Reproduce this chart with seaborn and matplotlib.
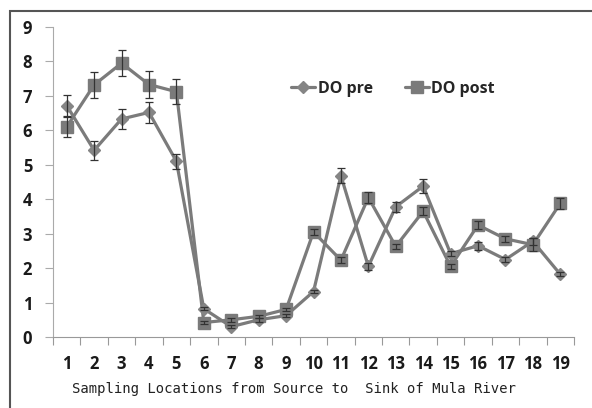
import pandas as pd
import matplotlib.pyplot as plt
import seaborn as sns
from matplotlib.patches import Rectangle

sns.set_style("white")

# Data
locations = list(range(1, 20))
do_pre = [6.72, 5.42, 6.33, 6.52, 5.10, 0.82, 0.30, 0.50, 0.62, 1.32,
          4.68, 2.05, 3.78, 4.38, 2.42, 2.65, 2.25, 2.78, 1.82]
do_pre_err = [0.30, 0.28, 0.30, 0.30, 0.22, 0.05, 0.05, 0.05, 0.05, 0.05,
              0.22, 0.10, 0.15, 0.20, 0.08, 0.12, 0.08, 0.10, 0.06]
do_post = [6.10, 7.32, 7.95, 7.33, 7.12, 0.42, 0.50, 0.60, 0.80, 3.05,
           2.23, 4.05, 2.63, 3.65, 2.05, 3.25, 2.85, 2.68, 3.88]
do_post_err = [0.30, 0.38, 0.38, 0.38, 0.36, 0.05, 0.05, 0.05, 0.05, 0.08,
               0.08, 0.15, 0.08, 0.12, 0.08, 0.12, 0.08, 0.18, 0.15]
xlabels = [str(i) for i in locations]

df = pd.DataFrame({'loc': locations * 2,
                   'DO': do_pre + do_post,
                   'series': ['DO pre'] * 19 + ['DO post'] * 19})

line_color = '#7b7b7b'

fig = plt.figure(figsize=(5.92, 4.08), dpi=100)
ax = fig.add_axes([53/592, 1 - 337/408, 521/592, 310/408])

sns.lineplot(data=df, x='loc', y='DO', hue='series',
             palette={'DO pre': line_color, 'DO post': line_color},
             linewidth=2.3, ax=ax, legend=False)

# markers (separate so sizes differ)
ax.plot(locations, do_pre, linestyle='none', marker='D', markersize=6,
        color='#858585', zorder=4)
ax.plot(locations, do_post, linestyle='none', marker='s', markersize=9,
        color='#7a7a7a', zorder=4)

# error bars
ax.errorbar(locations, do_pre, yerr=do_pre_err, fmt='none', ecolor='#333333',
            elinewidth=0.9, capsize=3, capthick=0.9, zorder=5)
ax.errorbar(locations, do_post, yerr=do_post_err, fmt='none', ecolor='#333333',
            elinewidth=0.9, capsize=3, capthick=0.9, zorder=5)

# legend
h1, = ax.plot([], [], color=line_color, lw=2.3, marker='D', markersize=6,
              markerfacecolor='#858585', markeredgecolor='#858585')
h2, = ax.plot([], [], color=line_color, lw=2.3, marker='s', markersize=9,
              markerfacecolor='#7a7a7a', markeredgecolor='#7a7a7a')
ax.legend([h1, h2], ['DO pre', 'DO post'], loc='center left',
          bbox_to_anchor=(0.43, 0.80), ncol=2, frameon=False,
          handlelength=1.5, handletextpad=0.15, columnspacing=2.0,
          prop={'family': 'Open Sans', 'weight': 'bold', 'size': 11.5})

# axes styling
ax.set_xlim(0.5, 19.5)
ax.set_ylim(0, 9)
ax.set_yticks(range(0, 10))
ax.set_xticks([i + 0.5 for i in range(0, 20)])
ax.set_xticklabels([])
ax.set_xticks(locations, minor=True)
ax.set_xticklabels(xlabels, minor=True)
ax.tick_params(axis='x', which='major', bottom=True, direction='out',
               length=6, color='#999999', width=0.8)
ax.tick_params(axis='x', which='minor', bottom=True, length=0, pad=13)
ax.tick_params(axis='y', left=True, direction='out', length=6,
               color='#aaaaaa', width=0.8, pad=9)
for lab in ax.get_xticklabels(minor=True) + ax.get_yticklabels():
    lab.set_fontfamily('Open Sans')
    lab.set_fontweight('bold')
    lab.set_fontsize(12)
    lab.set_color('#1a1a1a')

for s in ['top', 'right']:
    ax.spines[s].set_visible(False)
ax.spines['left'].set_color('#aaaaaa')
ax.spines['bottom'].set_color('#999999')
ax.spines['left'].set_linewidth(0.8)
ax.spines['bottom'].set_linewidth(0.8)

ax.set_xlabel('Sampling Locations from Source to  Sink of Mula River',
              fontfamily='DejaVu Sans Mono', fontsize=10, color='#222222',
              labelpad=6)
ax.xaxis.set_label_coords(0.462, -0.145)
ax.set_ylabel('')

# outer frame
fig.patches.append(Rectangle((10/592, -0.1), 1.0, 1 - 11/408 + 0.1,
                             transform=fig.transFigure, fill=False,
                             edgecolor='#555555', linewidth=1.5))

plt.savefig('out.png', dpi=100)
plt.close()
